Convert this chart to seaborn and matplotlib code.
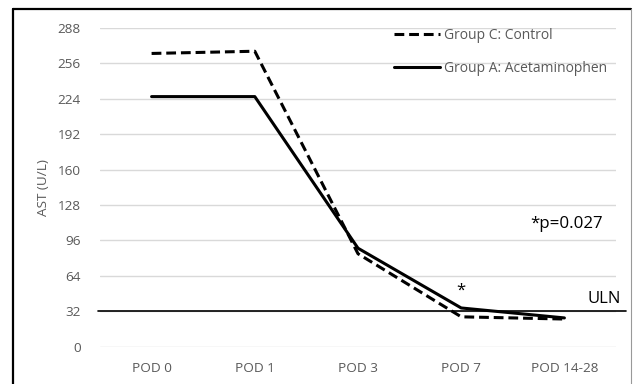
import matplotlib
matplotlib.use("Agg")
import matplotlib.pyplot as plt
from matplotlib.lines import Line2D
import seaborn as sns
import pandas as pd

pods = ["POD 0", "POD 1", "POD 3", "POD 7", "POD 14-28"]
control = [265, 267, 84, 27, 25]
acetaminophen = [226, 226, 89, 35, 26]
yticks = [0, 32, 64, 96, 128, 160, 192, 224, 256, 288]
uln = 32
series_names = ["Group C: Control", "Group A: Acetaminophen"]

df = pd.DataFrame({
    "pod": pods * 2,
    "ast": control + acetaminophen,
    "group": [series_names[0]] * len(pods) + [series_names[1]] * len(pods),
})

sns.set_theme(style="white")
plt.rcParams["font.family"] = ["Open Sans", "DejaVu Sans"]

fig = plt.figure(figsize=(6.34, 3.84), dpi=100)
ax = fig.add_axes([100 / 634, 1 - 346.7 / 384, 516 / 634, (346.7 - 28) / 384])

dash = (0, (3.2, 1.6))
sns.lineplot(data=df, x="pod", y="ast", hue="group", style="group",
             palette={series_names[0]: "black", series_names[1]: "black"},
             dashes={series_names[0]: (3.2, 1.6), series_names[1]: ""},
             linewidth=2.2, ax=ax, legend=False, sort=False)

ax.set_xlim(-0.5, len(pods) - 0.5)
ax.set_ylim(0, 288)
ax.set_yticks(yticks)
ax.set_xticks(range(len(pods)))
ax.set_xticklabels(pods)
ax.grid(axis="y", color="#d9d9d9", linewidth=1.0)
ax.grid(axis="x", visible=False)
for s in ax.spines.values():
    s.set_visible(False)
ax.tick_params(axis="y", length=0, pad=14, labelsize=9.7, labelcolor="#595959")
ax.tick_params(axis="x", length=0, pad=11, labelsize=9.7, labelcolor="#595959")
ax.set_xlabel("")
ax.set_ylabel("AST (U/L)", color="#595959", fontsize=9.7, labelpad=5)
ax.set_axisbelow(True)

# ULN line extending past the plot area
ax.plot([-0.52, 4.6], [uln, uln], color="black", linewidth=1.2, clip_on=False, zorder=1)
ax.text(4.55, uln + 4, "ULN", ha="right", va="bottom", fontsize=12, color="black")
ax.text(3.0, 43, "*", ha="center", va="bottom", fontsize=12, color="black")
ax.text(4.37, 111, "*p=0.027", ha="right", va="center", fontsize=12.2, color="black")

handles = [Line2D([0], [0], color="black", lw=2.2, linestyle=dash),
           Line2D([0], [0], color="black", lw=2.2)]
leg = ax.legend(handles, series_names, loc="upper left",
                bbox_to_anchor=((393 - 100) / 516, 1.003), frameon=False,
                handlelength=3.3, handletextpad=0.3, labelspacing=1.3,
                fontsize=10, borderaxespad=0.0, borderpad=0.05)
for t in leg.get_texts():
    t.set_color("#595959")

# outer frame
fig.add_artist(Line2D([12.5 / 634, 12.5 / 634], [0, 1 - 8.5 / 384], color="black", lw=1.6))
fig.add_artist(Line2D([12.5 / 634, 631 / 634], [1 - 8.5 / 384, 1 - 8.5 / 384], color="black", lw=1.6))
fig.add_artist(Line2D([631 / 634, 631 / 634], [0, 1 - 8.5 / 384], color="#999999", lw=0.8))

fig.savefig("out.png", dpi=100)
